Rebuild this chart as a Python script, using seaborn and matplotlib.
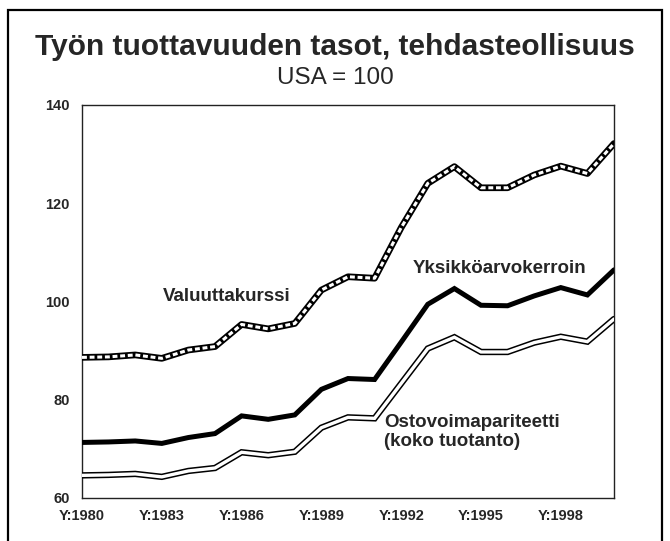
import matplotlib
matplotlib.use("Agg")
import matplotlib.pyplot as plt
from matplotlib.patches import Rectangle
from matplotlib.ticker import MultipleLocator, FixedLocator
import seaborn as sns
import pandas as pd

years = list(range(1980, 2001))
valuuttakurssi = [88.6, 88.7, 89.1, 88.4, 90.1, 90.8, 95.3, 94.4, 95.5, 102.3, 105.0,
                  104.7, 115.0, 124.0, 127.4, 123.1, 123.1, 125.7, 127.5, 126.0, 132.1]
yksikkoarvo = [71.3, 71.4, 71.6, 71.1, 72.3, 73.1, 76.7, 76.0, 76.9, 82.1, 84.3,
               84.1, 91.7, 99.4, 102.6, 99.2, 99.1, 101.1, 102.8, 101.3, 106.4]
ostovoima = [64.6, 64.7, 64.9, 64.3, 65.5, 66.1, 69.3, 68.7, 69.4, 74.3, 76.4,
             76.2, 83.3, 90.4, 92.7, 89.7, 89.7, 91.6, 92.8, 91.8, 96.4]
tick_years = [1980, 1983, 1986, 1989, 1992, 1995, 1998]
tick_labels = ["Y:1980", "Y:1983", "Y:1986", "Y:1989", "Y:1992", "Y:1995", "Y:1998"]

df = pd.DataFrame({"vuosi": years, "Valuuttakurssi": valuuttakurssi,
                   "Yksikköarvokerroin": yksikkoarvo, "Ostovoimapariteetti": ostovoima})

sns.set_style("white")
plt.rcParams["font.family"] = ["Liberation Sans", "DejaVu Sans"]

fig = plt.figure(figsize=(6.70, 5.41), dpi=100)
ax = fig.add_axes([0.1224, 0.0795, 0.7940, 0.7270])

# Purchasing-power line: black outline with white core
sns.lineplot(data=df, x="vuosi", y="Ostovoimapariteetti", ax=ax, color="black",
             lw=4.6, solid_joinstyle="miter", solid_capstyle="round", zorder=3)
sns.lineplot(data=df, x="vuosi", y="Ostovoimapariteetti", ax=ax, color="white",
             lw=2.4, solid_joinstyle="miter", solid_capstyle="round", zorder=4)

# Unit-value ratio: plain thick black line
sns.lineplot(data=df, x="vuosi", y="Yksikköarvokerroin", ax=ax, color="black",
             lw=3.6, solid_joinstyle="miter", solid_capstyle="round", zorder=5)

# Exchange-rate line: thick black with white dashes inside
sns.lineplot(data=df, x="vuosi", y="Valuuttakurssi", ax=ax, color="black",
             lw=4.8, solid_joinstyle="round", solid_capstyle="round", zorder=6)
line = sns.lineplot(data=df, x="vuosi", y="Valuuttakurssi", ax=ax, color="white",
                    lw=2.2, zorder=7).lines[-1]
line.set_dashes((1.6, 0.9))
line.set_dash_capstyle("butt")

ax.set_xlim(1980, 2000)
ax.set_ylim(60, 140)
ax.xaxis.set_major_locator(FixedLocator(tick_years))
ax.set_xticklabels(tick_labels)
ax.xaxis.set_minor_locator(MultipleLocator(1))
ax.yaxis.set_major_locator(MultipleLocator(20))
ax.yaxis.set_minor_locator(MultipleLocator(10))
ax.set_xlabel("")
ax.set_ylabel("")

for s in ax.spines.values():
    s.set_color("#222222")
    s.set_linewidth(1.0)
    s.set_visible(True)

ax.tick_params(axis="x", which="major", direction="in", length=7, width=1.0,
               color="#222222", labelsize=10.5, pad=8)
ax.tick_params(axis="x", which="minor", direction="in", length=3.6, width=1.0,
               color="#222222")
ax.tick_params(axis="y", which="both", direction="in", length=8, width=1.0,
               color="#222222", labelsize=10.5, pad=9)
ax.tick_params(axis="y", which="minor", labelleft=False)
for lab in ax.get_xticklabels() + ax.get_yticklabels():
    lab.set_fontweight("bold")

# Series names written next to the lines
ax.text(1985.45, 100.9, "Valuuttakurssi", ha="center", va="center",
        fontsize=13.5, fontweight="bold")
ax.text(1995.68, 106.6, "Yksikköarvokerroin", ha="center", va="center",
        fontsize=13.5, fontweight="bold")
ax.text(1991.35, 75.3, "Ostovoimapariteetti", ha="left", va="center",
        fontsize=13.5, fontweight="bold")
ax.text(1991.35, 71.5, "(koko tuotanto)", ha="left", va="center",
        fontsize=13.5, fontweight="bold")

fig.text(0.5, 1 - 47 / 541, "Työn tuottavuuden tasot, tehdasteollisuus",
         ha="center", va="center", fontsize=21.5, fontweight="bold")
fig.text(0.5, 1 - 78 / 541, "USA = 100", ha="center", va="center", fontsize=17.5)

# Outer frame around the whole chart
fig.patches.append(Rectangle((8 / 670, -0.05), 654 / 670, 1.05 - 10 / 541,
                             transform=fig.transFigure, fill=False,
                             edgecolor="black", lw=1.6))

fig.savefig("out.png", dpi=100)
